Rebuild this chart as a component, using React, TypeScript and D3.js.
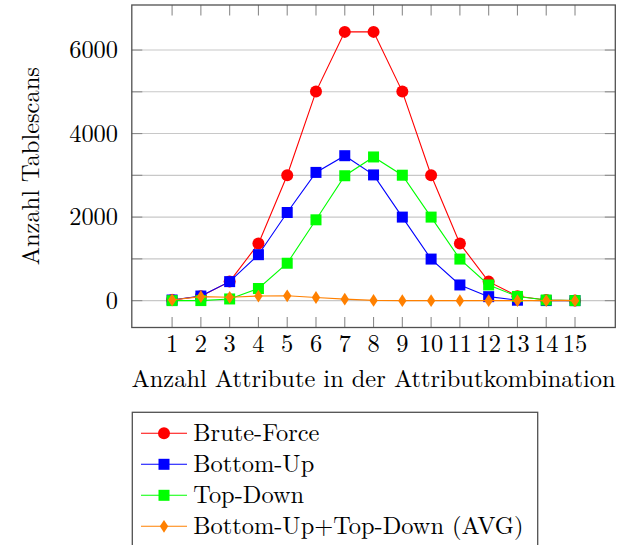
import React from "react";
import * as d3 from "d3";

// Number of attributes in the attribute combination
const attributeCounts = [1, 2, 3, 4, 5, 6, 7, 8, 9, 10, 11, 12, 13, 14, 15];

// Table scans per strategy
const bruteForce = [15, 105, 455, 1365, 3003, 5005, 6435, 6435, 5005, 3003, 1365, 455, 105, 15, 1];
const bottomUp = [15, 110, 455, 1100, 2110, 3070, 3470, 3010, 2000, 995, 375, 95, 10, 1, 0];
const topDown = [0, 1, 40, 290, 895, 1935, 2990, 3440, 3003, 2000, 995, 375, 100, 15, 1];
const avgBoth = [15, 95, 80, 110, 115, 75, 35, 5, 0, 0, 0, 0, 0, 0, 0];

const seriesNames = ["Brute-Force", "Bottom-Up", "Top-Down", "Bottom-Up+Top-Down (AVG)"];
const yTickLabels = [0, 2000, 4000, 6000];
const yGridValues = [0, 1000, 2000, 3000, 4000, 5000, 6000];

const xAxisTitle = "Anzahl Attribute in der Attributkombination";
const yAxisTitle = "Anzahl Tablescans";

const W = 632;
const H = 545;
const FONT = '"Latin Modern Roman", "Liberation Serif", serif';
const textStyle = { fontFamily: FONT };
const FS = 24.4;

type MarkerKind = "circle" | "square" | "diamond";

const seriesStyles: { color: string; marker: MarkerKind }[] = [
  { color: "#ff0000", marker: "circle" },
  { color: "#0000ff", marker: "square" },
  { color: "#00ff00", marker: "square" },
  { color: "#ff8000", marker: "diamond" },
];

function Marker({ kind, x, y, color }: { kind: MarkerKind; x: number; y: number; color: string }) {
  if (kind === "circle") return <circle cx={x} cy={y} r={6} fill={color} />;
  if (kind === "square") return <rect x={x - 5.5} y={y - 5.5} width={11} height={11} fill={color} />;
  const hw = 4.2;
  const hh = 6.4;
  return (
    <path
      d={`M${x},${y - hh}L${x + hw},${y}L${x},${y + hh}L${x - hw},${y}Z`}
      fill={color}
    />
  );
}

export default function App() {
  const left = 131.8;
  const right = 615.3;
  const top = 5;
  const bottom = 327.5;

  const xMin = d3.min(attributeCounts)!;
  const xMax = d3.max(attributeCounts)!;
  const xPad = (xMax - xMin) * 0.1;
  const x = d3.scaleLinear().domain([xMin - xPad, xMax + xPad]).range([left, right]);

  const allValues = [...bruteForce, ...bottomUp, ...topDown, ...avgBoth];
  const yLo = d3.min(allValues)!;
  const yHi = d3.max(allValues)!;
  const yPad = (yHi - yLo) * 0.1;
  const y = d3.scaleLinear().domain([yLo - yPad, yHi + yPad]).range([bottom, top]);

  const allSeries = [bruteForce, bottomUp, topDown, avgBoth];
  const line = d3
    .line<number>()
    .x((_, i) => x(attributeCounts[i]))
    .y((d) => y(d));

  const tickLen = 10.5;
  const tickColor = "#8c8c8c";

  const legendLeft = 132.3;
  const legendTop = 412.3;
  const legendRight = 537.7;
  const legendRow0 = 433.3;
  const legendStep = 31;

  return (
    <svg
      width={W}
      height={H}
      style={{ position: "absolute", left: 0, top: 0, background: "#fff" }}
    >
      <rect x={0} y={0} width={W} height={H} fill="#fff" />

      {/* horizontal grid */}
      {yGridValues.map((v) => (
        <line key={`g${v}`} x1={left} x2={right} y1={y(v)} y2={y(v)} stroke="#c8c8c8" strokeWidth={1.1} />
      ))}

      {/* y ticks, both sides */}
      {yGridValues.map((v) => (
        <g key={`yt${v}`} stroke={tickColor} strokeWidth={1.1}>
          <line x1={left} x2={left + tickLen} y1={y(v)} y2={y(v)} />
          <line x1={right - tickLen} x2={right} y1={y(v)} y2={y(v)} />
        </g>
      ))}

      {/* x ticks, bottom and top */}
      {attributeCounts.map((c) => (
        <g key={`xt${c}`} stroke={tickColor} strokeWidth={1.1}>
          <line x1={x(c)} x2={x(c)} y1={bottom} y2={bottom - tickLen} />
          <line x1={x(c)} x2={x(c)} y1={top} y2={top + tickLen} />
        </g>
      ))}

      {/* series */}
      {allSeries.map((data, si) => (
        <g key={`s${si}`}>
          <path d={line(data) ?? ""} fill="none" stroke={seriesStyles[si].color} strokeWidth={1.1} />
          {data.map((v, i) => (
            <Marker
              key={i}
              kind={seriesStyles[si].marker}
              x={x(attributeCounts[i])}
              y={y(v)}
              color={seriesStyles[si].color}
            />
          ))}
        </g>
      ))}

      {/* frame */}
      <rect
        x={left}
        y={top}
        width={right - left}
        height={bottom - top}
        fill="none"
        stroke="#505050"
        strokeWidth={1.3}
      />

      {/* y tick labels */}
      {yTickLabels.map((v) => (
        <text key={`yl${v}`} x={118} y={y(v) + 8} textAnchor="end" fontSize={FS} fill="#000" style={textStyle}>
          {v}
        </text>
      ))}

      {/* x tick labels */}
      {attributeCounts.map((c) => (
        <text key={`xl${c}`} x={x(c)} y={352} textAnchor="middle" fontSize={FS} fill="#000" style={textStyle}>
          {c}
        </text>
      ))}

      {/* axis titles */}
      <text
        x={(left + right) / 2}
        y={387}
        textAnchor="middle"
        fontSize={FS}
        fill="#000"
        style={textStyle}
      >
        {xAxisTitle}
      </text>
      <text
        transform={`translate(39,${(top + bottom) / 2}) rotate(-90)`}
        textAnchor="middle"
        fontSize={FS}
        fill="#000"
        style={textStyle}
      >
        {yAxisTitle}
      </text>

      {/* legend */}
      <rect
        x={legendLeft}
        y={legendTop}
        width={legendRight - legendLeft}
        height={H + 20 - legendTop}
        fill="#fff"
        stroke="#505050"
        strokeWidth={1.3}
      />
      {seriesNames.map((name, i) => {
        const cy = legendRow0 + i * legendStep;
        const st = seriesStyles[i];
        return (
          <g key={`lg${i}`}>
            <line x1={141} x2={187} y1={cy} y2={cy} stroke={st.color} strokeWidth={1.1} />
            <Marker kind={st.marker} x={164} y={cy} color={st.color} />
            <text x={193.3} y={cy + 8} fontSize={FS} fill="#000" style={textStyle}>
              {name}
            </text>
          </g>
        );
      })}
    </svg>
  );
}
